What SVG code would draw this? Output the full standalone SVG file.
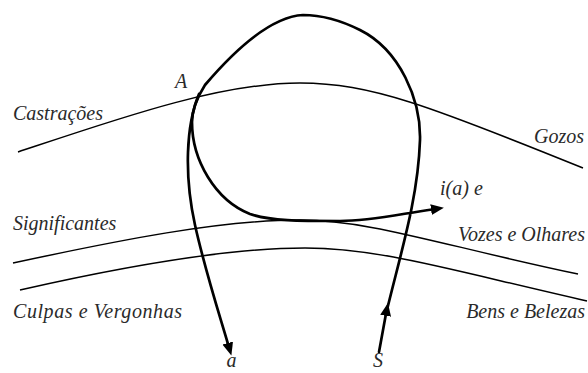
<svg xmlns="http://www.w3.org/2000/svg" width="588" height="373" viewBox="0 0 588 373">
<defs>
<style>
.thin{fill:none;stroke:#000;stroke-width:1.5}
.thick{fill:none;stroke:#000;stroke-width:2.7;stroke-linecap:round}
.lbl{font-family:"Liberation Serif",serif;font-style:italic;font-size:20px;fill:#2a2a2a}
</style>
<marker id="arr" markerUnits="userSpaceOnUse" markerWidth="14" markerHeight="12" refX="1" refY="5.5" orient="auto">
<path d="M0,0 L13,5.5 L0,11 z" fill="#000"/>
</marker>
</defs>
<rect width="588" height="373" fill="#fff"/>
<g id="connectors">
<path id="castracoes-gozos" class="thin" d="M18,152 C120,118 220,83 300,83 C370,83 430,106 583,168"/>
<path id="significantes-vozes" class="thin" d="M13,263 C120,240 220,220 300,220 C370,220 440,245 578,274"/>
<path id="culpas-bens" class="thin" d="M20,290 C130,265 230,248 305,248 C380,248 450,270 587,301"/>
<path id="s-arrow" class="thick" d="M379,352 L385.8,314.8" marker-end="url(#arr)"/>
<path id="loop" class="thick" d="M385.8,314.8 C400,255 418,200 420,140 C421,100 400,50 360,30 C340,20 322,15 303,15 C268,17 228,58 205,85 C198,96 192,108 192,122 C192,160 215,200 250,214 C270,221 300,221 340,221 C370,221 400,214 432,209.5" marker-end="url(#arr)"/>
<path id="a-arrow" class="thick" d="M199,94 C186,125 184,175 195,225 C205,270 218,310 228,344" marker-end="url(#arr)"/>
</g>
<g id="A"><text class="lbl" x="175" y="88">A</text></g>
<g id="castracoes"><text class="lbl" x="13" y="120">Castrações</text></g>
<g id="gozos"><text class="lbl" x="584" y="143" text-anchor="end">Gozos</text></g>
<g id="ia"><text class="lbl" x="440" y="195">i(a) e</text></g>
<g id="significantes"><text class="lbl" x="13" y="230">Significantes</text></g>
<g id="vozes"><text class="lbl" x="585" y="241" text-anchor="end">Vozes e Olhares</text></g>
<g id="culpas"><text class="lbl" x="13" y="318" textLength="169">Culpas e Vergonhas</text></g>
<g id="bens"><text class="lbl" x="585" y="318" text-anchor="end">Bens e Belezas</text></g>
<g id="a"><text class="lbl" x="231.5" y="367" text-anchor="middle">a</text></g>
<g id="S"><text class="lbl" x="378" y="367" text-anchor="middle">S</text></g>
</svg>
